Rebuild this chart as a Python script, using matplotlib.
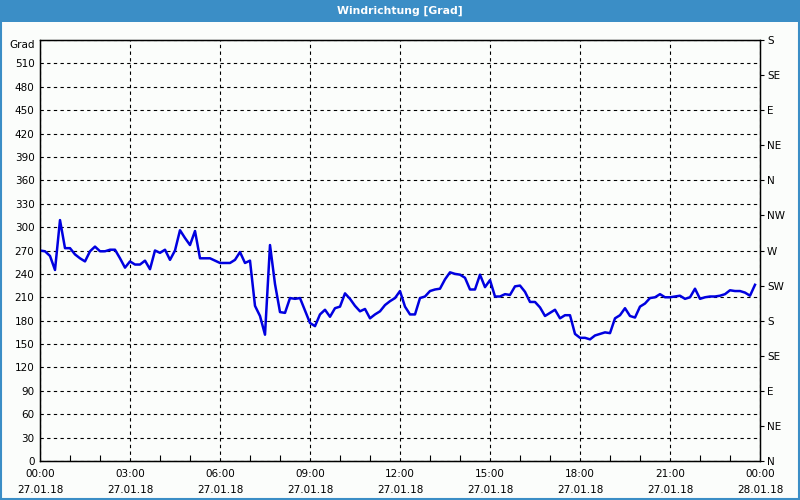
import numpy as np
import pandas as pd
import matplotlib
matplotlib.use("Agg")
import matplotlib.pyplot as plt
import matplotlib.dates as mdates
from matplotlib.patches import Rectangle

# wind direction, 10-minute values over 27.01.18
times = pd.date_range("2018-01-27 00:00", periods=144, freq="10min")
direction = [
    270, 269, 263, 245, 309, 273, 273, 265, 260, 256, 269, 275,
    269, 269, 271, 271, 260, 248, 256, 252, 252, 257, 246, 270,
    267, 271, 258, 270, 296, 286, 277, 295, 260, 260, 260, 257,
    254, 254, 254, 258, 268, 254, 257, 199, 186, 162, 277, 227,
    191, 190, 209, 208, 209, 193, 177, 173, 188, 194, 185, 196,
    198, 215, 208, 199, 192, 195, 183, 188, 192, 200, 205, 209,
    218, 198, 188, 188, 209, 211, 218, 220, 221, 233, 242, 240,
    239, 235, 220, 220, 239, 223, 232, 211, 211, 214, 213, 224,
    225, 217, 204, 204, 197, 186, 190, 194, 183, 187, 187, 163,
    158, 158, 156, 161, 163, 165, 164, 183, 187, 196, 186, 184,
    198, 202, 209, 210, 214, 210, 210, 211, 212, 208, 210, 221,
    208, 210, 211, 211, 212, 214, 219, 218, 218, 216, 212, 226,
]

left_ticks = list(range(0, 541, 30))
left_labels = [str(v) for v in left_ticks[:-1]] + ["Grad"]
right_ticks = list(range(0, 541, 45))
right_labels = ["N", "NE", "E", "SE", "S", "SW", "W", "NW", "N", "NE", "E", "SE", "S"]

bg = "#fbfdfb"
fig = plt.figure(figsize=(8, 5), dpi=100, facecolor=bg)

# title bar + frame
fig.patches.append(Rectangle((0, 0.957), 1, 0.043, transform=fig.transFigure,
                             facecolor="#3b8ec6", edgecolor="none", zorder=0))
fig.patches.append(Rectangle((0.001, 0.002), 0.998, 0.997, transform=fig.transFigure,
                             facecolor="none", edgecolor="#3b8ec6", lw=1.5, zorder=0))
fig.text(0.5, 0.979, "Windrichtung [Grad]", color="white", fontsize=7.8,
         fontweight="bold", ha="center", va="center")

ax = fig.add_axes([0.05, 0.078, 0.90, 0.842])
ax.set_facecolor(bg)
ax.plot(times, direction, color="#0000e0", lw=1.8, zorder=3)

start = pd.Timestamp("2018-01-27 00:00")
end = pd.Timestamp("2018-01-28 00:00")
ax.set_xlim(start, end)
ax.set_ylim(0, 540)

ax.xaxis.set_major_locator(mdates.HourLocator(byhour=range(0, 24, 3)))
ax.xaxis.set_minor_locator(mdates.HourLocator())
ax.xaxis.set_major_formatter(mdates.DateFormatter("%H:%M\n%d.%m.%y"))
for lab in ax.get_xticklabels():
    lab.set_linespacing(1.7)
ax.tick_params(axis="x", which="major", length=0, pad=6, labelsize=7.5)
ax.tick_params(axis="x", which="minor", direction="in", length=4, width=0.8)

ax.set_yticks(left_ticks)
ax.set_yticklabels(left_labels)
ax.tick_params(axis="y", length=0, pad=4, labelsize=7.5)
ax.get_yticklabels()[-1].set_va("top")  # "Grad" sits just under the top edge

ax.grid(True, which="major", color="black", linestyle=(0, (3, 3)), lw=0.8)
for s in ax.spines.values():
    s.set_color("black")
    s.set_linewidth(1)

ax2 = ax.twinx()
ax2.set_ylim(0, 540)
ax2.set_yticks(right_ticks)
ax2.set_yticklabels(right_labels)
ax2.tick_params(axis="y", direction="out", length=3, width=0.8, pad=2, labelsize=7.5)

fig.savefig("out.png", dpi=100, facecolor=bg)
